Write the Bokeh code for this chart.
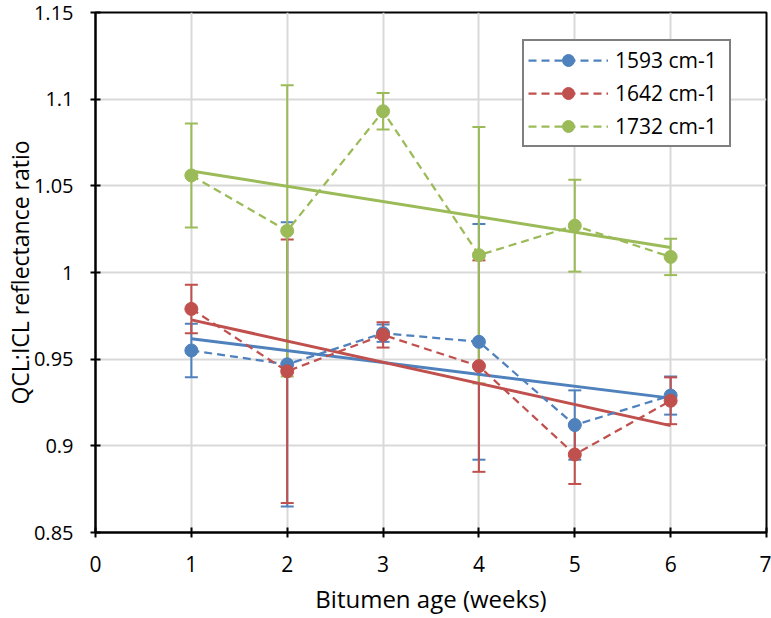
import numpy as np
from bokeh.plotting import figure
from bokeh.models import (ColumnDataSource, Whisker, TeeHead, FixedTicker,
                          CustomJSTickFormatter, Range1d, Legend, LegendItem)
from bokeh.embed import file_html
from bokeh.resources import INLINE

# Bitumen age in weeks
weeks = [1, 2, 3, 4, 5, 6]

# Mean QCL:ICL reflectance ratio and error (±) per band
ratio_1593 = [0.955, 0.947, 0.965, 0.960, 0.912, 0.929]
err_1593 = [0.0155, 0.082, 0.005, 0.068, 0.020, 0.011]

ratio_1642 = [0.979, 0.943, 0.964, 0.946, 0.895, 0.926]
err_1642 = [0.014, 0.076, 0.0073, 0.061, 0.017, 0.0135]

ratio_1732 = [1.056, 1.024, 1.093, 1.010, 1.027, 1.009]
err_1732 = [0.030, 0.084, 0.0105, 0.074, 0.0265, 0.0105]

series_names = ["1593 cm-1", "1642 cm-1", "1732 cm-1"]
series_colors = ["#4F81BD", "#C0504D", "#9BBB59"]

x_ticks = [0, 1, 2, 3, 4, 5, 6, 7]
y_ticks = [0.85, 0.9, 0.95, 1.0, 1.05, 1.1, 1.15]

FONT = "Open Sans"

p = figure(width=771, height=618, output_backend="svg", toolbar_location=None,
           x_range=Range1d(0, 7), y_range=Range1d(0.85, 1.15),
           min_border_left=94, min_border_right=5, min_border_top=12,
           min_border_bottom=86, background_fill_color="white",
           border_fill_color="white")

p.outline_line_color = "black"
p.outline_line_width = 2

p.xaxis.ticker = FixedTicker(ticks=x_ticks)
p.yaxis.ticker = FixedTicker(ticks=y_ticks)
p.yaxis.formatter = CustomJSTickFormatter(code="return String(Math.round(tick * 100) / 100);")

for ax in (p.xaxis, p.yaxis):
    ax.axis_line_color = "black"
    ax.axis_line_width = 2
    ax.major_tick_line_color = "black"
    ax.major_tick_line_width = 2
    ax.major_tick_in = 5
    ax.major_tick_out = 5
    ax.minor_tick_line_color = None
    ax.major_label_text_font = FONT
    ax.major_label_text_color = "black"
    ax.axis_label_text_font = FONT
    ax.axis_label_text_font_style = "normal"
    ax.axis_label_text_color = "black"

p.xaxis.major_label_text_font_size = "21px"
p.yaxis.major_label_text_font_size = "20px"
p.xaxis.axis_label_text_font_size = "24px"
p.yaxis.axis_label_text_font_size = "23px"

p.xaxis.axis_label = "Bitumen age (weeks)"
p.yaxis.axis_label = "QCL:ICL reflectance ratio"
p.xaxis.major_label_standoff = 18
p.xaxis.axis_label_standoff = 7
p.yaxis.major_label_standoff = 17
p.yaxis.axis_label_standoff = -5
p.yaxis.axis_label_text_line_height = 1.0

for g in (p.xgrid, p.ygrid):
    g.grid_line_color = "#D9D9D9"
    g.grid_line_width = 2

series = list(zip(series_names, [ratio_1593, ratio_1642, ratio_1732],
                  [err_1593, err_1642, err_1732], series_colors))

# error bars underneath everything else
for name, vals, errs, color in series:
    v = np.array(vals)
    e = np.array(errs)
    src = ColumnDataSource(dict(x=weeks, lower=v - e, upper=v + e))
    w = Whisker(base="x", lower="lower", upper="upper", source=src,
                line_color=color, line_width=2,
                upper_head=TeeHead(size=13, line_color=color, line_width=2),
                lower_head=TeeHead(size=13, line_color=color, line_width=2))
    p.add_layout(w)

# least-squares linear trend lines over the data range
for name, vals, errs, color in series:
    slope, intercept = np.polyfit(weeks, vals, 1)
    xs = [weeks[0], weeks[-1]]
    p.line(xs, [slope * x + intercept for x in xs], line_color=color, line_width=3)

items = []
for name, vals, errs, color in series:
    src = ColumnDataSource(dict(x=weeks, y=vals))
    lr = p.line("x", "y", source=src, line_color=color, line_width=2.25,
                line_dash="8 5")
    sr = p.scatter("x", "y", source=src, size=13, marker="circle",
                   fill_color=color, line_color=color)
    items.append(LegendItem(label=name, renderers=[lr, sr]))

legend = Legend(items=items, location=(427, 385), orientation="vertical",
                glyph_width=80, glyph_height=30, label_standoff=7,
                padding=4, spacing=3, margin=0, label_width=110,
                label_text_font=FONT, label_text_font_size="21px",
                label_text_color="black", label_height=30,
                border_line_color="black", border_line_width=2,
                background_fill_color="white", background_fill_alpha=1.0)
p.add_layout(legend)

open("out.html", "w").write(file_html(p, INLINE))
